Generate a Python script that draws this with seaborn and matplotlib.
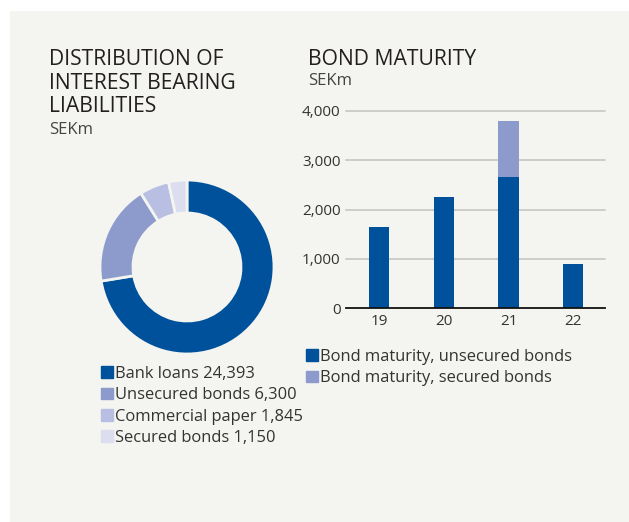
import matplotlib
matplotlib.use("Agg")
import matplotlib.pyplot as plt
import matplotlib.patches as mpatches
import seaborn as sns
import pandas as pd

# Interest bearing liabilities, SEKm
liab_labels = ["Bank loans", "Unsecured bonds", "Commercial paper", "Secured bonds"]
liab_values = [24393, 6300, 1845, 1150]

# Bond maturity per year, SEKm
years = ["19", "20", "21", "22"]
unsecured = [1650, 2250, 2650, 900]
secured = [0, 0, 1150, 0]
yticks = [0, 1000, 2000, 3000, 4000]

W, H = 629, 522
BG = "#f4f4f0"
TXT = "#231f20"
DARK = "#00519b"
MID = "#8c9bcc"
LIGHT = "#b9bfe3"
PALE = "#dcdef0"
pie_colors = [DARK, MID, LIGHT, PALE]

sns.set_theme(style="white")
plt.rcParams["font.family"] = ["Open Sans", "DejaVu Sans"]

fig = plt.figure(figsize=(W / 100, H / 100), dpi=100, facecolor="white")

# Panel background
fig.patches.append(mpatches.Rectangle((10 / W, 0), 1 - 10 / W, 1 - 11 / H,
                                      transform=fig.transFigure, facecolor=BG,
                                      edgecolor="none", zorder=-10))

# Titles
fig.text(49 / W, 1 - 49 / H, "DISTRIBUTION OF\nINTEREST BEARING\nLIABILITIES",
         ha="left", va="top", fontsize=15.2, color=TXT, linespacing=1.17)
fig.text(49 / W, 1 - 122 / H, "SEKm", ha="left", va="top", fontsize=12, color="#444444")
fig.text(308 / W, 1 - 49 / H, "BOND MATURITY", ha="left", va="top", fontsize=15.2, color=TXT)
fig.text(308 / W, 1 - 73 / H, "SEKm", ha="left", va="top", fontsize=12, color="#444444")

# Donut
axp = fig.add_axes([87 / W, 1 - 367 / H, 200 / W, 200 / H])
axp.patch.set_alpha(0)
axp.pie(liab_values, colors=pie_colors, startangle=90, counterclock=False,
        radius=0.87, wedgeprops=dict(width=0.33, edgecolor=BG, linewidth=2))
axp.set_xlim(-1, 1)
axp.set_ylim(-1, 1)
axp.set_aspect("equal")
axp.axis("off")

pie_handles = [mpatches.Patch(color=c, label=f"{l} {v:,}")
               for c, l, v in zip(pie_colors, liab_labels, liab_values)]
fig.legend(handles=pie_handles, loc="upper left", bbox_to_anchor=(101 / W, 1 - 366 / H),
           frameon=False, fontsize=11.9, labelcolor="#333333", handlelength=0.72,
           handleheight=0.72, handletextpad=0.15, labelspacing=0.32, borderaxespad=0,
           borderpad=0)

# Bars
df = pd.DataFrame({"year": years, "unsecured": unsecured, "secured": secured})
df["total"] = df["unsecured"] + df["secured"]

axb = fig.add_axes([346 / W, 1 - 308 / H, 259 / W, 197 / H])
axb.patch.set_alpha(0)
sns.barplot(data=df, x="year", y="total", color=MID, width=0.31, saturation=1,
            ax=axb, zorder=3, linewidth=0)
sns.barplot(data=df, x="year", y="unsecured", color=DARK, width=0.31, saturation=1,
            ax=axb, zorder=4, linewidth=0)
axb.set_xlim(-0.51, 3.49)
axb.set_ylim(0, 4000)
axb.set_yticks(yticks)
axb.set_yticklabels([f"{v:,}" for v in yticks])
axb.set_xlabel("")
axb.set_ylabel("")
for v in yticks[1:]:
    axb.axhline(v, color="#c9c9c7", linewidth=1.3, zorder=1, clip_on=False)
for s in ["top", "right", "left"]:
    axb.spines[s].set_visible(False)
axb.spines["bottom"].set_color("#111111")
axb.spines["bottom"].set_linewidth(1.3)
axb.spines["bottom"].set_zorder(5)
axb.tick_params(axis="y", length=0, pad=4, labelsize=11, labelcolor="#333333")
axb.tick_params(axis="x", length=0, pad=4, labelsize=11, labelcolor="#333333")

bar_handles = [mpatches.Patch(color=DARK, label="Bond maturity, unsecured bonds"),
               mpatches.Patch(color=MID, label="Bond maturity, secured bonds")]
fig.legend(handles=bar_handles, loc="upper left", bbox_to_anchor=(306 / W, 1 - 349 / H),
           frameon=False, fontsize=11.9, labelcolor="#333333", handlelength=0.72,
           handleheight=0.72, handletextpad=0.15, labelspacing=0.32, borderaxespad=0,
           borderpad=0)

fig.savefig("out.png", dpi=100, facecolor="white")
